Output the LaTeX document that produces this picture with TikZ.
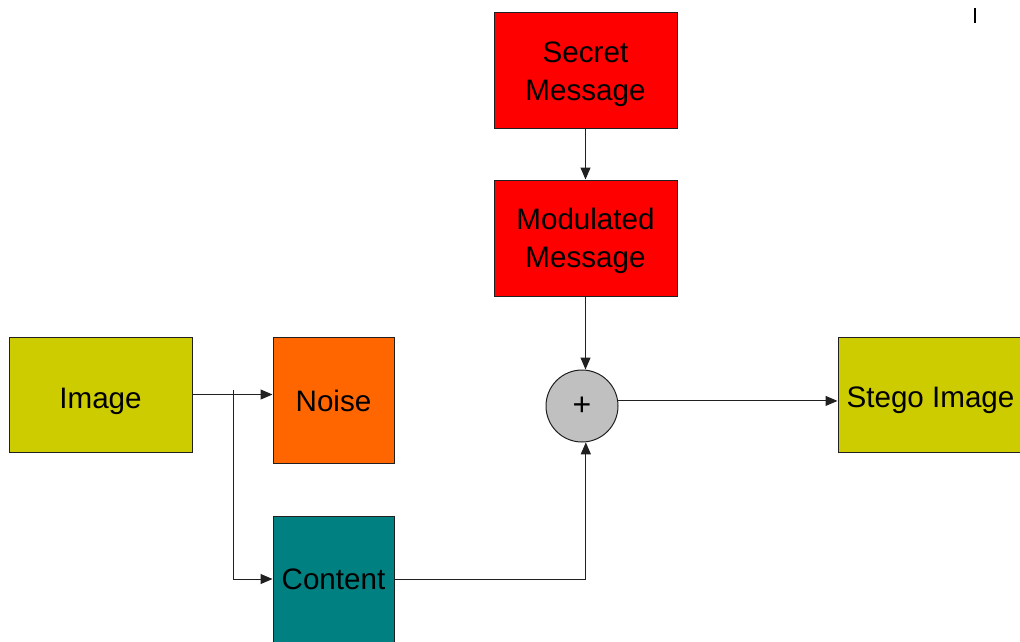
\documentclass[tikz,border=0pt]{standalone}
\usepackage{fontspec}
\setmainfont{Liberation Sans}
\usetikzlibrary{arrows.meta}
\definecolor{olivey}{HTML}{CCCC00}
\definecolor{noiseor}{HTML}{FF6600}
\definecolor{tealc}{HTML}{008080}
\definecolor{redc}{HTML}{FF0000}
\definecolor{greyc}{HTML}{C0C0C0}
\definecolor{linec}{HTML}{202020}
\tikzset{
  blk/.style={draw=linec, line width=1pt, rectangle, inner sep=0pt},
  lbl/.style={inner sep=0pt, align=center, font=\fontsize{29.6}{38}\selectfont, text=black},
  arr/.style={draw=linec, line width=1pt, -{Triangle[length=12pt,width=10pt]}},
  ln/.style={draw=linec, line width=1pt}
}
\begin{document}
\begin{tikzpicture}[x=1pt,y=-1pt]
\useasboundingbox (0,0) rectangle (1020,641);
\fill[white] (0,0) rectangle (1020,641);
\clip (0,0) rectangle (1020,641);
\node[blk, fill=redc, minimum width=183pt, minimum height=116pt,
  label={[lbl, name=secretT, yshift=-4pt]center:Secret\\Message}] (secret) at (585.5,70) {};
\node[blk, fill=redc, minimum width=183pt, minimum height=116pt,
  label={[lbl, name=modT, yshift=-3pt]center:Modulated\\Message}] (modulated) at (585.5,238) {};
\node[blk, fill=olivey, minimum width=183pt, minimum height=115pt,
  label={[lbl, name=imageT, yshift=-7pt]center:Image}] (image) at (100.5,394.5) {};
\node[blk, fill=noiseor, minimum width=121pt, minimum height=126pt,
  label={[lbl, name=noiseT, yshift=-1pt]center:Noise}] (noise) at (333.5,400) {};
\node[blk, fill=tealc, minimum width=121pt, minimum height=126pt,
  label={[lbl, name=contentT, yshift=0pt]center:Content}] (content) at (333.5,579) {};
\node[draw=linec, line width=1pt, circle, fill=greyc, minimum size=72pt, inner sep=0pt, font=\fontsize{32}{36}\selectfont] (plus) at (582,406) {+};
\node[blk, fill=olivey, minimum width=185pt, minimum height=115pt,
  label={[lbl, name=stegoT, yshift=-6pt]center:Stego Image}] (stego) at (930.5,394.5) {};
\draw[arr] (secret) -- (modulated);
\draw[arr] (modulated.south) -- (modulated.south |- plus.north);
\draw[arr] (plus.8) -- (plus.8 -| stego.west);
\draw[arr] (image.east) -- (noise.west |- image.east);
\coordinate (br) at (233,390);
\draw[arr] (br) |- (content.west);
\draw[arr] (content.east) -| (plus.-84);
\coordinate (m1) at (975,8);
\coordinate (m2) at (975,23);
\draw[line width=1.2pt, black] (m1) -- (m2);
\end{tikzpicture}
\end{document}
